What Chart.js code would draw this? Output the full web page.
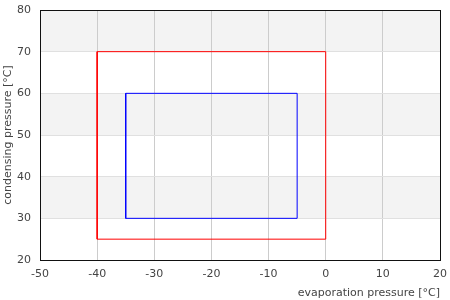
<!DOCTYPE html>
<html>
<head>
<meta charset="utf-8">
<script src="https://cdn.jsdelivr.net/npm/chart.js@4"></script>
<style>
  html, body { margin: 0; padding: 0; background: #fff; }
  #wrap { width: 450px; height: 300px; }
</style>
</head>
<body>
<div id="wrap"><canvas id="chart"></canvas></div>
<script>
/* --------------- Data --------------------- */
// outer (red) cycle: evaporation / condensing corners
const outerEvap = [-40, 0, 0, -40, -40];
const outerCond = [25, 25, 70, 70, 25];
// inner (blue) cycle
const innerEvap = [-35, -5, -5, -35, -35];
const innerCond = [30, 30, 60, 60, 30];
// axis ranges and labels
const xRange = [-50, 20];
const yRange = [20, 80];
const xTitle = "evaporation pressure [°C]";
const yTitle = "condensing pressure [°C]";
// shaded horizontal bands [from, to]
const bands = [[30, 40], [50, 60], [70, 80]];

const toPoints = (xs, ys) => xs.map((x, i) => ({ x: x, y: ys[i] }));

/* --------------- Bands and frame --------------------- */
const bandPlugin = {
  id: "bands",
  beforeDraw(chart) {
    const { ctx, chartArea, scales } = chart;
    ctx.save();
    ctx.fillStyle = "#f3f3f3";
    for (const b of bands) {
      const y1 = scales.y.getPixelForValue(b[1]);
      const y0 = scales.y.getPixelForValue(b[0]);
      ctx.fillRect(chartArea.left, y1, chartArea.right - chartArea.left, y0 - y1);
    }
    ctx.restore();
  },
  afterDatasetsDraw(chart) {
    const { ctx, chartArea } = chart;
    ctx.save();
    ctx.strokeStyle = "#111";
    ctx.lineWidth = 1;
    ctx.strokeRect(Math.round(chartArea.left) + 0.5, Math.round(chartArea.top) + 0.5,
      Math.round(chartArea.right - chartArea.left), Math.round(chartArea.bottom - chartArea.top));
    ctx.restore();
  },
};

Chart.defaults.font.family = "DejaVu Sans";
Chart.defaults.font.size = 11;
Chart.defaults.color = "#444";

new Chart(document.getElementById("chart"), {
  type: "scatter",
  plugins: [bandPlugin],
  data: {
    datasets: [
      {
        data: toPoints(outerEvap, outerCond),
        showLine: true,
        borderColor: "#ff0000",
        borderWidth: 1,
        pointRadius: 0,
        tension: 0,
      },
      {
        data: toPoints(innerEvap, innerCond),
        showLine: true,
        borderColor: "#0000ff",
        borderWidth: 1,
        pointRadius: 0,
        tension: 0,
      },
    ],
  },
  options: {
    responsive: true,
    maintainAspectRatio: false,
    animation: false,
    layout: { padding: { top: 10, right: 10, left: 2, bottom: 0 } },
    plugins: {
      legend: { display: false },
      tooltip: { enabled: false },
    },
    scales: {
      x: {
        min: xRange[0],
        max: xRange[1],
        ticks: { stepSize: 10, padding: 8, maxRotation: 0 },
        grid: { color: "#cccccc", drawTicks: false },
        border: { display: false },
        title: { display: true, text: xTitle, align: "end", padding: { top: 2, bottom: 0 } },
        afterFit: (s) => { s.height = 40; s.paddingLeft = 0; s.paddingRight = 0; },
      },
      y: {
        min: yRange[0],
        max: yRange[1],
        ticks: { stepSize: 10, padding: 9 },
        grid: { color: "#e0e0e0", drawTicks: false },
        border: { display: false },
        title: { display: true, text: yTitle, padding: { top: 0, bottom: 0 } },
        afterFit: (s) => { s.width = 38; s.paddingTop = 0; s.paddingBottom = 0; },
      },
    },
  },
});
</script>
</body>
</html>
